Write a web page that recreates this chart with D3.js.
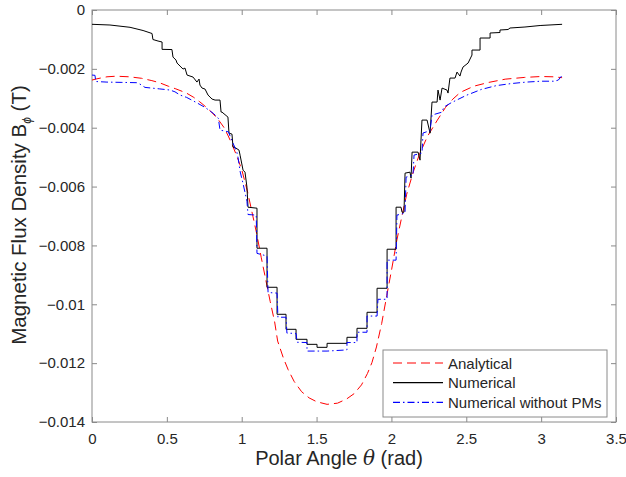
<!DOCTYPE html>
<html>
<head>
<meta charset="utf-8">
<script src="https://cdn.jsdelivr.net/npm/d3@7"></script>
<style>
  html, body { margin: 0; padding: 0; background: #fff; }
  svg { display: block; font-family: "Liberation Sans", Arial, Helvetica, sans-serif; }
</style>
</head>
<body>
<svg id="chart"></svg>
<script>
// series (theta in rad, B in T)
const analyticalTheta = [0, 0.04, 0.10, 0.16, 0.25, 0.33, 0.40, 0.45, 0.51, 0.56, 0.63, 0.68, 0.72, 0.76, 0.80, 0.84,
  0.88, 0.91, 0.94, 0.97, 1.00, 1.04, 1.07, 1.10, 1.13, 1.16, 1.19, 1.22, 1.24, 1.28, 1.31, 1.35, 1.40, 1.45, 1.50,
  1.57, 1.64, 1.70, 1.75, 1.80, 1.84, 1.87, 1.90, 1.935, 1.969, 2.002, 2.035, 2.069, 2.102, 2.146, 2.186, 2.240,
  2.307, 2.36, 2.41, 2.46, 2.55, 2.65, 2.76, 2.89, 3.00, 3.08, 3.14];
const analyticalB = [-0.00238, -0.00233, -0.00227, -0.00225, -0.00227, -0.00232, -0.00240, -0.00247, -0.00259,
  -0.00268, -0.00282, -0.00297, -0.00312, -0.00329, -0.00348, -0.00370, -0.00398, -0.00428, -0.00462, -0.00500,
  -0.00542, -0.00620, -0.00690, -0.00760, -0.00840, -0.00915, -0.00990, -0.01060, -0.01125, -0.01185, -0.01222,
  -0.01262, -0.01297, -0.01318, -0.01331, -0.01340, -0.01336, -0.01322, -0.01304, -0.01274, -0.01235, -0.01198,
  -0.01145, -0.01065, -0.00970, -0.00880, -0.00785, -0.00703, -0.00626, -0.00550, -0.00492, -0.00430, -0.00374,
  -0.00332, -0.00303, -0.00280, -0.00259, -0.00246, -0.00235, -0.00229, -0.00226, -0.00227, -0.00230];

const numericalTheta = [0, 0.120, 0.254, 0.341, 0.401, 0.407, 0.441, 0.468, 0.468, 0.534, 0.541, 0.561, 0.568,
  0.588, 0.608, 0.621, 0.635, 0.675, 0.701, 0.715, 0.721, 0.735, 0.755, 0.775, 0.802, 0.822, 0.855, 0.862, 0.868,
  0.908, 0.915, 0.935, 0.942, 0.962, 0.982, 0.989, 1.009, 1.022, 1.035, 1.042, 1.102, 1.102, 1.169, 1.169, 1.236,
  1.236, 1.296, 1.296, 1.363, 1.363, 1.436, 1.436, 1.503, 1.503, 1.570, 1.570, 1.703, 1.703, 1.770, 1.770, 1.837,
  1.837, 1.904, 1.904, 1.971, 1.971, 2.031, 2.031, 2.064, 2.071, 2.084, 2.091, 2.124, 2.131, 2.138, 2.178, 2.191,
  2.204, 2.238, 2.258, 2.271, 2.305, 2.311, 2.325, 2.338, 2.371, 2.378, 2.391, 2.425, 2.438, 2.458, 2.465, 2.478,
  2.512, 2.538, 2.538, 2.592, 2.592, 2.659, 2.659, 2.725, 2.725, 2.779, 2.792, 2.892, 2.993, 3.140];
const numericalB = [-0.000486, -0.000510, -0.000588, -0.000697, -0.000799, -0.001003, -0.001054, -0.001088,
  -0.001337, -0.001344, -0.001599, -0.001701, -0.001803, -0.001905, -0.002007, -0.001973, -0.002211, -0.002279,
  -0.002449, -0.002347, -0.002551, -0.002653, -0.002687, -0.002891, -0.003027, -0.003061, -0.003061, -0.003469,
  -0.003469, -0.003639, -0.004184, -0.004218, -0.004660, -0.004694, -0.004762, -0.004932, -0.005442, -0.005510,
  -0.006020, -0.006701, -0.006735, -0.008095, -0.008095, -0.009422, -0.009422, -0.010340, -0.010340, -0.010850,
  -0.010850, -0.011190, -0.011190, -0.011361, -0.011361, -0.011463, -0.011463, -0.011327, -0.011327, -0.011122,
  -0.011122, -0.010816, -0.010816, -0.010272, -0.010272, -0.009456, -0.009456, -0.008129, -0.008129, -0.006701,
  -0.006701, -0.006871, -0.006871, -0.005544, -0.005510, -0.005714, -0.004830, -0.004830, -0.005102, -0.003741,
  -0.003741, -0.004184, -0.003129, -0.003129, -0.002721, -0.003061, -0.002653, -0.002721, -0.002823, -0.002313,
  -0.002313, -0.002109, -0.002245, -0.002109, -0.001939, -0.001803, -0.001531, -0.001361, -0.001361, -0.000952,
  -0.000952, -0.000782, -0.000765, -0.000680, -0.000663, -0.000612, -0.000578, -0.000527, -0.000486];

const noPmTheta = [0, 0.02, 0.025, 0.10, 0.20, 0.298, 0.321, 0.354, 0.45, 0.521, 0.554, 0.588, 0.632, 0.699, 0.755,
  0.810, 0.844, 0.855, 0.911, 0.933, 0.967, 0.975, 0.99, 1.009, 1.035, 1.042, 1.097, 1.102, 1.169, 1.176, 1.236,
  1.242, 1.296, 1.302, 1.363, 1.370, 1.436, 1.436, 1.570, 1.703, 1.703, 1.770, 1.770, 1.837, 1.837, 1.904, 1.910,
  1.971, 1.971, 2.031, 2.037, 2.091, 2.098, 2.144, 2.151, 2.204, 2.211, 2.258, 2.271, 2.338, 2.35, 2.40, 2.44,
  2.50, 2.60, 2.70, 2.80, 2.90, 3.00, 3.09, 3.115, 3.14];
const noPmB = [-0.00221, -0.00222, -0.00243, -0.00245, -0.00246, -0.00247, -0.00252, -0.00263, -0.00268, -0.00272,
  -0.00278, -0.00289, -0.00297, -0.00315, -0.00331, -0.00351, -0.00368, -0.00408, -0.00414, -0.00442, -0.00482,
  -0.00500, -0.00550, -0.00590, -0.00650, -0.00695, -0.00697, -0.00827, -0.00836, -0.00960, -0.00962, -0.01044,
  -0.01044, -0.01098, -0.01099, -0.01129, -0.01130, -0.01159, -0.01159, -0.01155, -0.01130, -0.01130, -0.01095,
  -0.01095, -0.01040, -0.01040, -0.00983, -0.00983, -0.00850, -0.00850, -0.00697, -0.00690, -0.00568, -0.00561,
  -0.00493, -0.00486, -0.00418, -0.00410, -0.00357, -0.00347, -0.00330, -0.00315, -0.00305, -0.00290, -0.00270,
  -0.00257, -0.00250, -0.00245, -0.00242, -0.00242, -0.00238, -0.00222];

const seriesNames = ["Analytical", "Numerical", "Numerical without PMs"];
const seriesColors = ["#ff0000", "#000000", "#0000ff"];
const xTicks = [0, 0.5, 1, 1.5, 2, 2.5, 3, 3.5];
const yTicks = [0, -0.002, -0.004, -0.006, -0.008, -0.01, -0.012, -0.014];

const width = 626, height = 477;
const margin = { top: 10, right: 10, bottom: 55, left: 92 };

const svg = d3.select("#chart").attr("width", width).attr("height", height);

const x = d3.scaleLinear().domain([0, 3.5]).range([margin.left, width - margin.right]);
const y = d3.scaleLinear().domain([-0.014, 0]).range([height - margin.bottom, margin.top]);

const axisColor = "#8a8a8a";
const textColor = "#262626";

// axes, ticks inside like matlab, box on
function styleAxis(g) {
  g.select(".domain").remove();
  g.selectAll(".tick line").attr("stroke", axisColor);
  g.selectAll(".tick text").attr("fill", textColor).attr("font-size", 15);
}
svg.append("g")
  .attr("transform", `translate(0,${y(-0.014)})`)
  .call(d3.axisBottom(x).tickValues(xTicks).tickSize(-5).tickPadding(11).tickFormat(d3.format("")))
  .call(styleAxis);
svg.append("g")
  .attr("transform", `translate(0,${y(0)})`)
  .call(d3.axisTop(x).tickValues(xTicks).tickSize(-5).tickFormat(""))
  .call(styleAxis);
svg.append("g")
  .attr("transform", `translate(${x(0)},0)`)
  .call(d3.axisLeft(y).tickValues(yTicks).tickSize(-5).tickPadding(7).tickFormat(d => d === 0 ? "0" : d3.format("")(+d.toFixed(3))))
  .call(styleAxis);
svg.append("g")
  .attr("transform", `translate(${x(3.5)},0)`)
  .call(d3.axisRight(y).tickValues(yTicks).tickSize(-5).tickFormat(""))
  .call(styleAxis);

svg.append("rect")
  .attr("x", x(0)).attr("y", y(0))
  .attr("width", x(3.5) - x(0)).attr("height", y(-0.014) - y(0))
  .attr("fill", "none").attr("stroke", axisColor).attr("stroke-width", 1);

// lines
const line = d3.line().x(d => x(d[0])).y(d => y(d[1]));
const series = [
  { name: seriesNames[0], pts: d3.zip(analyticalTheta, analyticalB), color: seriesColors[0], dash: "9,5" },
  { name: seriesNames[1], pts: d3.zip(numericalTheta, numericalB), color: seriesColors[1], dash: "none" },
  { name: seriesNames[2], pts: d3.zip(noPmTheta, noPmB), color: seriesColors[2], dash: "7,3,1.5,3" }
];
series.forEach(s => {
  svg.append("path")
    .datum(s.pts)
    .attr("d", line)
    .attr("fill", "none")
    .attr("stroke", s.color)
    .attr("stroke-width", 1)
    .attr("stroke-dasharray", s.dash);
});

// legend
const legend = svg.append("g").attr("transform", "translate(383,350)");
legend.append("rect")
  .attr("x", 0).attr("y", 0).attr("width", 224).attr("height", 67)
  .attr("fill", "#fff").attr("stroke", axisColor);
series.forEach((s, i) => {
  const ly = 13 + i * 19.7;
  legend.append("path")
    .attr("d", `M10,${ly}H60`)
    .attr("fill", "none")
    .attr("stroke", s.color)
    .attr("stroke-width", 1.2)
    .attr("stroke-dasharray", s.dash);
  legend.append("text")
    .attr("x", 65).attr("y", ly + 5.5)
    .attr("font-size", 15).attr("fill", textColor)
    .text(s.name);
});

// axis labels
const xl = svg.append("text")
  .attr("x", 339).attr("y", 465)
  .attr("text-anchor", "middle").attr("font-size", 20).attr("fill", textColor);
xl.append("tspan").text("Polar Angle ");
xl.append("tspan").attr("font-style", "italic").attr("font-family", "DejaVu Serif, serif").text("θ");
xl.append("tspan").text(" (rad)");

const yl = svg.append("text")
  .attr("transform", "translate(26,215) rotate(-90)")
  .attr("text-anchor", "middle").attr("font-size", 20.5).attr("fill", textColor);
yl.append("tspan").text("Magnetic Flux Density B");
yl.append("tspan").attr("font-size", 12).attr("dy", 5).attr("font-style", "italic").text("ϕ");
yl.append("tspan").attr("dy", -5).text(" (T)");
</script>
</body>
</html>
